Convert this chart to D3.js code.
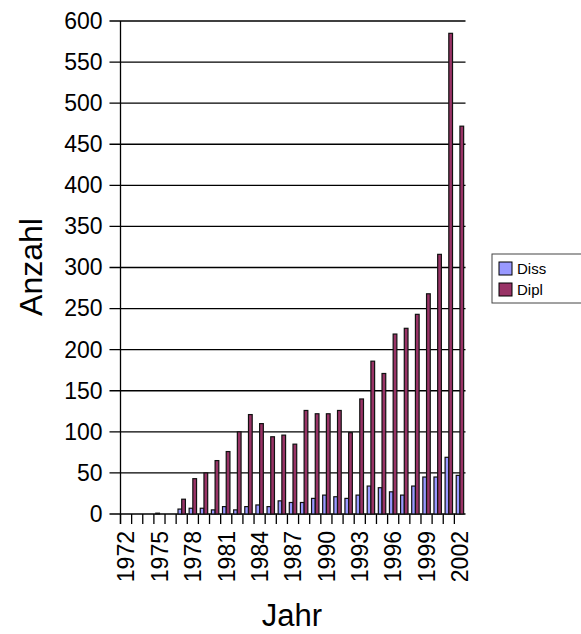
<!DOCTYPE html>
<html>
<head>
<meta charset="utf-8">
<script src="https://cdn.jsdelivr.net/npm/d3@7"></script>
<style>
  body { margin: 0; background: #fff; }
  svg { font-family: 'Liberation Sans', Arial, sans-serif; }
</style>
</head>
<body>
<svg id="chart" width="581" height="634"></svg>
<script>
// Jahr / Anzahl Diss + Dipl
const years = [1972, 1973, 1974, 1975, 1976, 1977, 1978, 1979, 1980, 1981, 1982, 1983, 1984, 1985, 1986, 1987,
  1988, 1989, 1990, 1991, 1992, 1993, 1994, 1995, 1996, 1997, 1998, 1999, 2000, 2001, 2002]
const diss = [0, 0, 0, 1, 0, 6, 7, 7, 5, 9, 5, 9, 11, 9, 16, 14, 14, 19, 23, 21, 19, 23, 34, 32, 27, 23, 34, 45, 45, 69, 47]
const dipl = [0, 0, 0, 0, 0, 18, 43, 50, 65, 76, 100, 121, 110, 94, 96, 85, 126, 122, 122, 126, 99, 140, 186, 171, 219,
  226, 243, 268, 316, 585, 472]
const seriesNames = ['Diss', 'Dipl']
const seriesColors = ['#9999ff', '#993366']
const yTicks = [0, 50, 100, 150, 200, 250, 300, 350, 400, 450, 500, 550, 600]
const xLabels = [1972, 1975, 1978, 1981, 1984, 1987, 1990, 1993, 1996, 1999, 2002]

const svg = d3.select('#chart')

const plot = { left: 120.5, right: 465.5, top: 21, bottom: 514 }

const x = d3.scaleBand().domain(years).range([plot.left, plot.right]).padding(0)
const xs = d3.scaleBand().domain(seriesNames).range([0, x.bandwidth()]).paddingInner(0).paddingOuter(0.5)
const y = d3.scaleLinear().domain([0, 600]).range([plot.bottom, plot.top])

const data = years.map((yr, i) => ({ year: yr, values: [diss[i], dipl[i]] }))

// grid lines + y ticks
svg.append('g')
  .selectAll('line')
  .data(yTicks)
  .enter()
  .append('line')
  .attr('x1', plot.left - 11)
  .attr('x2', plot.right)
  .attr('y1', d => y(d))
  .attr('y2', d => y(d))
  .attr('stroke', '#000')
  .attr('stroke-width', 1.3)

// y axis labels
const yAxis = svg.append('g')
  .attr('transform', `translate(${plot.left - 11},0)`)
  .call(d3.axisLeft(y).tickValues(yTicks).tickSize(0).tickPadding(7))
yAxis.select('.domain').remove()
yAxis.selectAll('text')
  .attr('font-size', '23px')
  .attr('font-family', "'Liberation Sans', Arial, sans-serif")
  .attr('fill', '#000')

// bars
const groups = svg.append('g')
  .selectAll('g')
  .data(data)
  .enter()
  .append('g')
  .attr('transform', d => `translate(${x(d.year)},0)`)

groups.selectAll('rect')
  .data(d => d.values.map((v, i) => ({ key: seriesNames[i], value: v, color: seriesColors[i] })))
  .enter()
  .filter(d => d.value > 0)
  .append('rect')
  .attr('x', d => xs(d.key))
  .attr('width', xs.bandwidth())
  .attr('y', d => y(d.value))
  .attr('height', d => y(0) - y(d.value))
  .attr('fill', d => d.color)
  .attr('stroke', '#111')
  .attr('stroke-width', 1.2)

// x axis: ticks between categories
const xTickPos = years.map(yr => x(yr))
svg.append('g')
  .selectAll('line')
  .data(xTickPos)
  .enter()
  .append('line')
  .attr('x1', d => d)
  .attr('x2', d => d)
  .attr('y1', plot.bottom)
  .attr('y2', plot.bottom + 10)
  .attr('stroke', '#000')
  .attr('stroke-width', 1.3)

// y axis line
svg.append('line')
  .attr('x1', plot.left)
  .attr('x2', plot.left)
  .attr('y1', plot.top)
  .attr('y2', plot.bottom + 10)
  .attr('stroke', '#000')
  .attr('stroke-width', 1.3)

// x labels, rotated
svg.append('g')
  .selectAll('text')
  .data(xLabels)
  .enter()
  .append('text')
  .attr('transform', d => `translate(${x(d) + x.bandwidth() / 2},${plot.bottom + 17}) rotate(-90)`)
  .attr('text-anchor', 'end')
  .attr('dy', '0.36em')
  .attr('font-size', '23px')
  .attr('fill', '#000')
  .text(d => d)

// axis titles
svg.append('text')
  .attr('transform', 'translate(42,267) rotate(-90)')
  .attr('text-anchor', 'middle')
  .attr('font-size', '32px')
  .attr('fill', '#000')
  .text('Anzahl')

svg.append('text')
  .attr('x', 292)
  .attr('y', 626)
  .attr('text-anchor', 'middle')
  .attr('font-size', '31px')
  .attr('fill', '#000')
  .text('Jahr')

// legend
const legend = svg.append('g').attr('transform', 'translate(492,254)')

legend.append('rect')
  .attr('width', 100)
  .attr('height', 49)
  .attr('fill', '#fff')
  .attr('stroke', '#444')
  .attr('stroke-width', 1)

seriesNames.forEach((name, i) => {
  legend.append('rect')
    .attr('x', 7)
    .attr('y', 8 + i * 21)
    .attr('width', 13)
    .attr('height', 13)
    .attr('fill', seriesColors[i])
    .attr('stroke', '#000')
    .attr('stroke-width', 1)
  legend.append('text')
    .attr('x', 25)
    .attr('y', 20 + i * 21)
    .attr('font-size', '15px')
    .attr('fill', '#000')
    .text(name)
})
</script>
</body>
</html>
